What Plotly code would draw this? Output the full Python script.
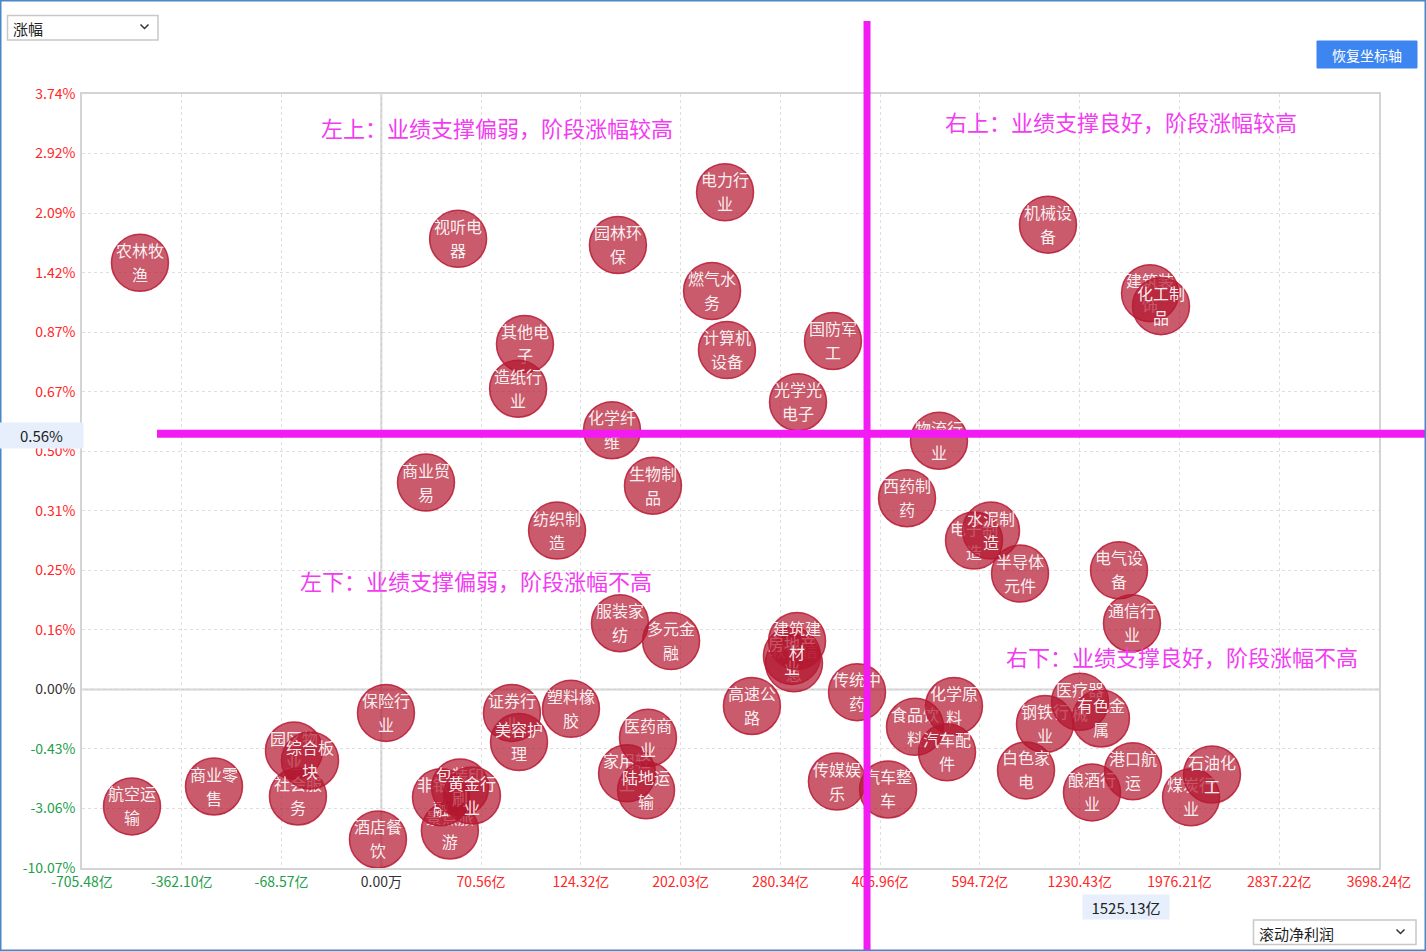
import numpy as np
import plotly.graph_objects as go

# axis ticks (piecewise axis: every tick sits at an equal step)
x_ticks = [-705.48, -362.10, -68.57, 0.00, 70.56, 124.32, 202.03, 280.34,
           406.96, 594.72, 1230.43, 1976.21, 2837.22, 3698.24]
x_tick_labels = ["-705.48亿", "-362.10亿", "-68.57亿", "0.00万", "70.56亿", "124.32亿",
                 "202.03亿", "280.34亿", "406.96亿", "594.72亿", "1230.43亿",
                 "1976.21亿", "2837.22亿", "3698.24亿"]
y_ticks = [-10.07, -3.06, -0.43, 0.00, 0.16, 0.25, 0.31, 0.50, 0.67, 0.87,
           1.42, 2.09, 2.92, 3.74]
y_tick_labels = ["%.2f%%" % v for v in y_ticks]

# industries: rolling net profit (亿) and change (%)
industries = ["农林牧渔", "视听电器", "电力行业", "园林环保", "燃气水务", "计算机设备",
              "国防军工", "其他电子", "造纸行业", "光学光电子", "化学纤维", "机械设备",
              "建筑装饰", "化工制品", "物流行业", "商业贸易", "生物制品", "纺织制造",
              "西药制药", "电子制造", "水泥制造", "半导体元件", "电气设备", "通信行业",
              "服装家纺", "多元金融", "软件信息", "房地产业", "建筑建材", "传统中药",
              "高速公路", "保险行业", "证券行业", "美容护理", "塑料橡胶", "家用轻工",
              "医药商业", "陆地运输", "传媒娱乐", "汽车整车", "食品饮料", "化学原料",
              "汽车配件", "钢铁行业", "医疗器械", "有色金属", "白色家电", "酿酒行业",
              "港口航运", "煤炭行业", "石油化工", "航空运输", "商业零售", "园区物业",
              "社会服务", "综合板块", "酒店餐饮", "景点旅游", "非银金融", "包装印刷",
              "黄金行业"]
profit = [-506.0, 54.3, 236.9, 153.2, 226.7, 238.4,
          347.1, 94.2, 90.5, 302.7, 148.6, 1028.3,
          1756.2, 1838.2, 517.7, 31.6, 180.5, 111.5,
          457.5, 583.6, 665.3, 850.3, 1524.3, 1621.2,
          154.8, 194.6, 297.6, 295.0, 301.5, 377.6,
          258.0, 3.3, 87.2, 91.0, 119.0, 160.3,
          176.6, 175.1, 352.1, 421.8, 472.5, 545.9,
          532.8, 1009.2, 1232.7, 1389.3, 888.4, 1322.2,
          1628.7, 2076.1, 2256.9, -533.4, -267.3, -60.0,
          -57.3, -49.0, -2.3, 48.5, 42.2, 55.7,
          64.1]
change = [1.53, 1.80, 2.38, 1.73, 1.25, 0.81,
          0.84, 0.83, 0.68, 0.64, 0.56, 1.96,
          1.23, 1.11, 0.53, 0.40, 0.39, 0.29,
          0.35, 0.28, 0.29, 0.245, 0.25, 0.17,
          0.17, 0.13, 0.07, 0.09, 0.13, -0.02,
          -0.12, -0.17, -0.17, -0.38, -0.14, -1.51,
          -0.35, -2.26, -1.87, -2.22, -0.27, -0.12,
          -0.58, -0.25, -0.09, -0.21, -1.38, -2.35,
          -1.42, -2.57, -1.56, -2.97, -2.09, -0.50,
          -2.53, -0.94, -6.71, -5.65, -2.57, -2.13,
          -2.49]

profit_line = 390.3     # vertical marker line
change_line = 0.55      # horizontal marker line
profit_label = 1525.13
change_label = 0.56

quadrants = ["左上：业绩支撑偏弱，阶段涨幅较高", "右上：业绩支撑良好，阶段涨幅较高",
             "左下：业绩支撑偏弱，阶段涨幅不高", "右下：业绩支撑良好，阶段涨幅不高"]

W, H = 1426, 951
L, R, T, B = 82, 47, 94, 83
PW, PH = W - L - R, H - T - B
FONT = "Noto Sans CJK SC"
RED, GREEN, DARK = "#ff2626", "#22a04a", "#333333"
MAGENTA = "#f21cf2"
UP = 10 * 13 / PH     # label line offsets, in axis units
DOWN = 14 * 13 / PH


def pos_x(v):
    return np.interp(v, x_ticks, np.arange(len(x_ticks)))


def pos_y(v):
    return np.interp(v, y_ticks, np.arange(len(y_ticks)))


def paper_x(px):
    return (px - L) / PW


def paper_y(py):
    return (H - B - py) / PH


def colored(text, v):
    c = RED if v > 0 else (GREEN if v < 0 else DARK)
    return "<span style='color:%s'>%s</span>" % (c, text)


fig = go.Figure()

bx = pos_x(profit)
by = pos_y(change)
for name, x, y in zip(industries, bx, by):
    fig.add_trace(go.Scatter(
        x=[x], y=[y], mode="markers",
        marker=dict(size=57, color="rgba(178,22,46,0.70)",
                    line=dict(color="rgba(185,25,50,0.85)", width=1.5)),
        hoverinfo="skip", showlegend=False,
    ))
    fig.add_trace(go.Scatter(
        x=[x, x], y=[y + UP, y - DOWN], mode="text",
        text=[name[:3], name[3:]], textposition="middle center",
        textfont=dict(family=FONT, size=16, color="rgba(255,255,255,0.92)"),
        hoverinfo="skip", showlegend=False,
    ))

shapes = [
    # zero lines
    dict(type="line", xref="x", yref="y", x0=pos_x(0), x1=pos_x(0), y0=0, y1=13,
         line=dict(color="#cfcfcf", width=2), layer="below"),
    dict(type="line", xref="x", yref="y", x0=0, x1=13, y0=pos_y(0), y1=pos_y(0),
         line=dict(color="#cfcfcf", width=2), layer="below"),
    # marker lines
    dict(type="line", xref="x", yref="paper", x0=pos_x(profit_line), x1=pos_x(profit_line),
         y0=paper_y(951), y1=paper_y(21), line=dict(color=MAGENTA, width=7), layer="above"),
    dict(type="line", xref="paper", yref="y", x0=paper_x(157), x1=paper_x(1426),
         y0=pos_y(change_line), y1=pos_y(change_line),
         line=dict(color=MAGENTA, width=8), layer="above"),
    # page frame
    dict(type="rect", xref="paper", yref="paper", x0=paper_x(0.75), x1=paper_x(1425.25),
         y0=paper_y(950.25), y1=paper_y(0.75), line=dict(color="#4a86c8", width=1.5)),
    # dropdowns and button
    dict(type="rect", xref="paper", yref="paper", x0=paper_x(7.5), x1=paper_x(158),
         y0=paper_y(40), y1=paper_y(15.5), line=dict(color="#c8c8c8", width=1.5),
         fillcolor="white"),
    dict(type="rect", xref="paper", yref="paper", x0=paper_x(1253.5), x1=paper_x(1416),
         y0=paper_y(944.5), y1=paper_y(920), line=dict(color="#c8c8c8", width=1.5),
         fillcolor="white"),
    dict(type="rect", xref="paper", yref="paper", x0=paper_x(1317), x1=paper_x(1417),
         y0=paper_y(68), y1=paper_y(41), line=dict(color="#3d85f0", width=1),
         fillcolor="#3d85f0"),
]
for cx, cy in [(144.5, 26.5), (1400.5, 931.5)]:
    shapes.append(dict(
        type="path", xref="paper", yref="paper",
        path="M %f %f L %f %f L %f %f" % (paper_x(cx - 4), paper_y(cy - 2),
                                          paper_x(cx), paper_y(cy + 2),
                                          paper_x(cx + 4), paper_y(cy - 2)),
        line=dict(color="#333", width=1.5)))

annotations = [
    dict(text="涨幅", xref="paper", yref="paper", x=paper_x(11), y=paper_y(28),
         xanchor="left", yanchor="middle", showarrow=False,
         font=dict(family=FONT, size=15, color="#222")),
    dict(text="滚动净利润", xref="paper", yref="paper", x=paper_x(1257), y=paper_y(933),
         xanchor="left", yanchor="middle", showarrow=False,
         font=dict(family=FONT, size=15, color="#222")),
    dict(text="恢复坐标轴", xref="paper", yref="paper", x=paper_x(1367), y=paper_y(54.5),
         xanchor="center", yanchor="middle", showarrow=False,
         font=dict(family=FONT, size=14, color="white")),
    dict(text="%.2f%%" % change_label, xref="paper", yref="y", x=paper_x(41.5),
         y=pos_y(change_line), yshift=-2, xanchor="center", yanchor="middle",
         showarrow=False, width=81, height=23, bgcolor="#e7effc", borderpad=1,
         font=dict(family=FONT, size=15, color="#222")),
    dict(text="%.2f亿" % profit_label, xref="x", yref="paper", x=pos_x(profit_label),
         xshift=7, y=paper_y(907), xanchor="center", yanchor="middle", showarrow=False,
         width=84, height=22, bgcolor="#e7effc", borderpad=1,
         font=dict(family=FONT, size=15, color="#222")),
]
for txt, (cx, cy) in zip(quadrants, [(497, 127), (1121, 121), (476, 580), (1182, 656)]):
    annotations.append(dict(text=txt, xref="paper", yref="paper", x=paper_x(cx),
                            y=paper_y(cy), xanchor="center", yanchor="middle",
                            showarrow=False,
                            font=dict(family=FONT, size=22, color="#f23cf2")))

fig.update_layout(
    width=W, height=H,
    margin=dict(l=L, r=R, t=T, b=B),
    paper_bgcolor="white", plot_bgcolor="white",
    font=dict(family=FONT),
    shapes=shapes, annotations=annotations,
    showlegend=False,
)
fig.update_xaxes(
    range=[0, 13], tickmode="array", tickvals=list(range(len(x_ticks))),
    ticktext=[colored(t, v) for t, v in zip(x_tick_labels, x_ticks)],
    tickfont=dict(family=FONT, size=14), ticks="outside", ticklen=0,
    ticklabelstandoff=0,
    showgrid=True, gridcolor="#dedede", griddash="dot", gridwidth=1,
    showline=True, mirror=True, linecolor="#d4d4d4", linewidth=1.5, zeroline=False,
)
fig.update_yaxes(
    range=[0, 13], tickmode="array", tickvals=list(range(len(y_ticks))),
    ticktext=[colored(t, v) for t, v in zip(y_tick_labels, y_ticks)],
    tickfont=dict(family=FONT, size=14), ticks="outside", ticklen=0,
    ticklabelstandoff=2,
    showgrid=True, gridcolor="#dedede", griddash="dot", gridwidth=1,
    showline=True, mirror=True, linecolor="#d4d4d4", linewidth=1.5, zeroline=False,
)

fig.write_html("out.html", config={"displayModeBar": False},
               post_script="document.body.style.margin='0';")
